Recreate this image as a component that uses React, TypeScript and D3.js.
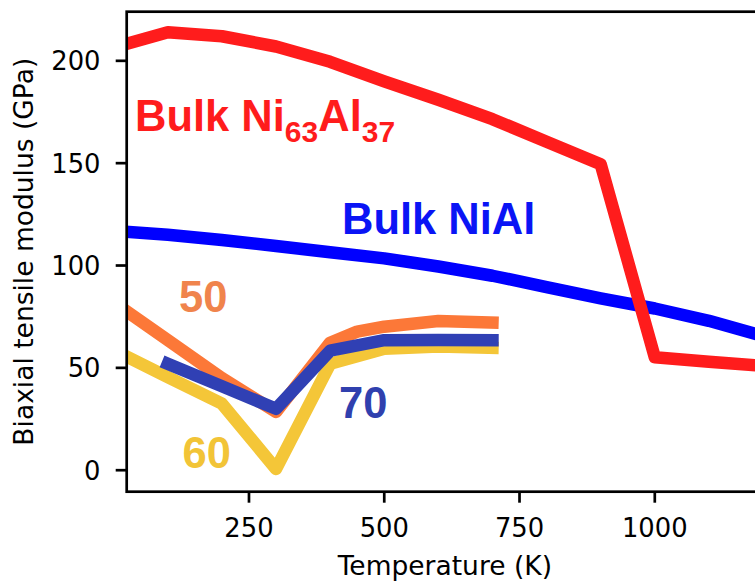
import React from "react";
import * as d3 from "d3";

// ---- data ----
const bulkTemps = [0, 100, 200, 300, 400, 500, 600, 700, 800, 900, 1000, 1100, 1200];
const bulkNi63Al37 = [206.5, 214, 212, 207, 199.5, 190, 181, 171.5, 160.5, 149.5, 55.2, 53, 51];
const bulkNiAl = [117, 115, 112.5, 109.5, 106.5, 103.5, 99.5, 95, 89.5, 84, 79, 73, 65.5];

const temps50 = [0, 100, 200, 300, 400, 450, 500, 600, 700];
const film50 = [82, 63.5, 45, 28.5, 62.3, 67.7, 70.1, 72.9, 72.1];

const temps60 = [0, 100, 200, 300, 400, 500, 600, 700];
const film60 = [58.7, 45.5, 32.5, 0.6, 52, 59.3, 60.4, 59.8];

const temps70 = [100, 200, 300, 400, 500, 600, 700];
const film70 = [52, 41, 30, 58.4, 63.5, 63.6, 63.5];

const xTicks = [250, 500, 750, 1000];
const yTicks = [0, 50, 100, 150, 200];

const xLabel = "Temperature (K)";
const yLabel = "Biaxial tensile modulus (GPa)";

// ---- layout ----
const W = 755;
const H = 581;
const left = 126.7;
const right = 763;
const top = 11.7;
const bottom = 491.7;

const axisFont = "'DejaVu Sans', sans-serif";
const annFont = "'Liberation Sans', Arial, sans-serif";
const annSize = 43.5;
const subSize = 30;

export default function App() {
  const x = d3.scaleLinear().domain([24, 1200]).range([left, right]);
  const y = d3.scaleLinear().domain([-10.5, 224]).range([bottom, top]);

  const mk = (ts: number[], vs: number[]) =>
    d3
      .line<number>()
      .x((_, i) => x(ts[i]))
      .y((v) => y(v))(vs) as string;

  const series = [
    { d: mk(bulkTemps, bulkNiAl), color: "#0000ff" },
    { d: mk(bulkTemps, bulkNi63Al37), color: "#ff1c1c" },
    { d: mk(temps50, film50), color: "#fc7838" },
    { d: mk(temps60, film60), color: "#f4c638" },
    { d: mk(temps70, film70), color: "#3040b4" },
  ];

  return (
    <svg
      width={W}
      height={H}
      style={{ position: "absolute", left: 0, top: 0, background: "#fff" }}
    >
      <defs>
        <clipPath id="plotclip">
          <rect x={left} y={top} width={right - left} height={bottom - top} />
        </clipPath>
      </defs>
      <rect x={0} y={0} width={W} height={H} fill="#fff" />

      <g clipPath="url(#plotclip)">
        {series.map((s, i) => (
          <path
            key={i}
            d={s.d}
            fill="none"
            stroke={s.color}
            strokeWidth={12.5}
            strokeLinejoin="round"
            strokeLinecap="square"
          />
        ))}
      </g>

      {/* spines */}
      <rect
        x={left}
        y={top}
        width={right - left}
        height={bottom - top}
        fill="none"
        stroke="#000"
        strokeWidth={2.7}
      />

      {/* x ticks */}
      {xTicks.map((t) => (
        <g key={"x" + t}>
          <line x1={x(t)} x2={x(t)} y1={bottom} y2={bottom + 11} stroke="#000" strokeWidth={2.7} />
          <text
            x={x(t)}
            y={536.5}
            textAnchor="middle"
            fontFamily={axisFont}
            fontSize={25.8}
            fill="#000"
          >
            {t}
          </text>
        </g>
      ))}

      {/* y ticks */}
      {yTicks.map((t) => (
        <g key={"y" + t}>
          <line x1={left - 11} x2={left} y1={y(t)} y2={y(t)} stroke="#000" strokeWidth={2.7} />
          <text
            x={100.5}
            y={y(t) + 9.5}
            textAnchor="end"
            fontFamily={axisFont}
            fontSize={25.8}
            fill="#000"
          >
            {t}
          </text>
        </g>
      ))}

      <text
        x={(left + right) / 2}
        y={575}
        textAnchor="middle"
        fontFamily={axisFont}
        fontSize={26.5}
        fill="#000"
      >
        {xLabel}
      </text>
      <text
        transform={`translate(32.5,${(top + bottom) / 2}) rotate(-90)`}
        textAnchor="middle"
        fontFamily={axisFont}
        fontSize={26.5}
        fill="#000"
      >
        {yLabel}
      </text>

      {/* annotations */}
      <text x={135} y={130.5} fontFamily={annFont} fontWeight="bold" fontSize={annSize} fill="#ff1c1c">
        Bulk Ni
        <tspan fontSize={subSize} dy={11.5}>63</tspan>
        <tspan fontSize={annSize} dy={-11.5}>Al</tspan>
        <tspan fontSize={subSize} dy={11.5}>37</tspan>
      </text>
      <text x={342} y={233.5} fontFamily={annFont} fontWeight="bold" fontSize={annSize} fill="#0a14f5">
        Bulk NiAl
      </text>
      <text x={179} y={311.7} fontFamily={annFont} fontWeight="bold" fontSize={annSize} fill="#f0844c">
        50
      </text>
      <text x={182.5} y={468} fontFamily={annFont} fontWeight="bold" fontSize={annSize} fill="#f2c437">
        60
      </text>
      <text x={339} y={418.3} fontFamily={annFont} fontWeight="bold" fontSize={annSize} fill="#3040ae">
        70
      </text>
    </svg>
  );
}
